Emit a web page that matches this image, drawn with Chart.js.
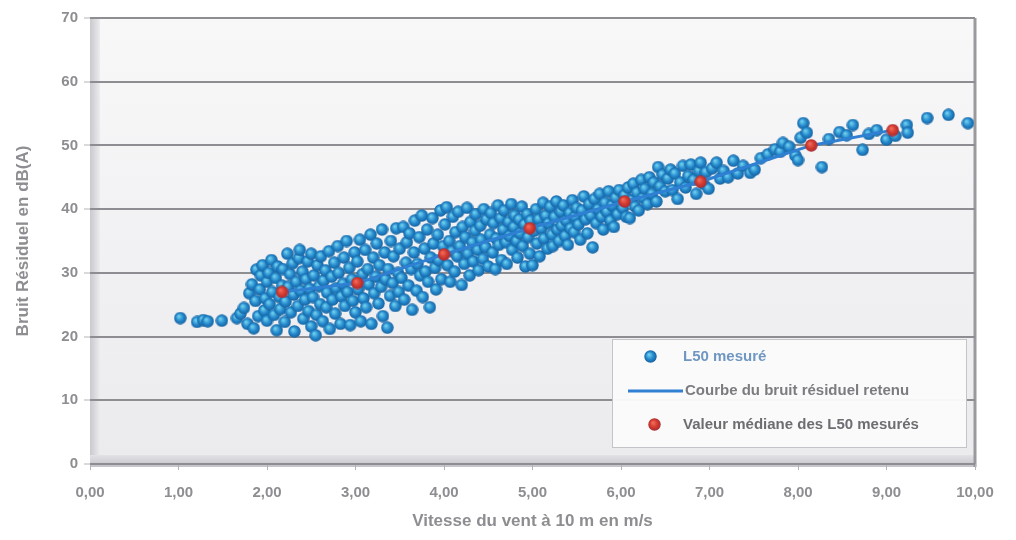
<!DOCTYPE html>
<html>
<head>
<meta charset="utf-8">
<script src="https://cdn.jsdelivr.net/npm/chart.js@4.4.1/dist/chart.umd.min.js"></script>
<style>
  html, body { margin: 0; padding: 0; background: #ffffff; }
  #wrap { width: 1016px; height: 540px; }
</style>
</head>
<body>
<div id="wrap"><canvas id="c" width="1016" height="540"></canvas></div>
<script>
// Wind speed at 10 m (m/s) and measured L50 residual noise (dB(A))
const measuredPoints = [
  [1.02,22.9],[1.21,22.3],[1.28,22.6],[1.33,22.4],[1.49,22.5],[1.66,22.9],[1.70,23.6],
  [1.74,24.5],[1.78,22.0],[1.80,26.8],[1.83,28.2],[1.85,21.3],[1.87,25.6],[1.88,30.5],[1.90,23.2],[1.92,27.4],[1.93,29.6],[1.95,31.2],[1.97,24.1],[1.98,26.0],[2.00,22.5],[2.00,28.6],
  [2.02,30.0],[2.03,25.1],[2.05,32.0],[2.06,27.0],[2.08,23.4],[2.10,29.2],[2.11,21.0],[2.12,31.0],[2.14,26.2],[2.15,24.3],[2.17,28.0],[2.18,30.6],[2.20,22.3],[2.21,25.5],[2.23,33.0],[2.24,27.8],[2.26,29.8],[2.27,23.8],[2.29,31.5],[2.30,26.6],[2.31,20.8],[2.33,28.6],[2.35,24.8],[2.36,32.3],[2.37,33.6],[2.38,27.2],[2.40,30.2],[2.41,22.8],[2.43,25.8],[2.44,29.0],[2.46,31.8],[2.47,24.0],[2.48,27.5],[2.50,33.0],[2.50,21.6],
  [2.52,26.2],[2.53,29.6],[2.55,20.2],[2.56,23.4],[2.57,31.2],[2.59,27.9],[2.60,25.1],[2.61,32.6],[2.63,22.4],[2.64,28.8],[2.66,30.4],[2.67,24.6],[2.68,26.9],[2.70,33.4],[2.71,21.2],[2.73,29.4],[2.74,25.8],[2.76,31.6],[2.77,23.6],[2.78,27.6],[2.80,34.2],[2.81,30.0],[2.83,22.0],[2.84,26.3],[2.86,28.3],[2.87,32.4],[2.88,24.8],[2.90,35.0],[2.91,27.0],[2.93,30.8],[2.94,21.8],[2.96,29.0],[2.97,25.6],[2.99,33.2],[3.00,23.8],
  [3.02,31.8],[3.03,27.4],[3.05,35.2],[3.06,22.4],[3.08,29.8],[3.09,26.0],[3.11,33.6],[3.12,24.6],[3.14,30.6],[3.15,28.2],[3.17,36.0],[3.18,22.0],[3.20,32.4],[3.21,26.8],[3.23,29.4],[3.24,34.6],[3.26,25.2],[3.27,31.2],[3.29,27.8],[3.30,36.8],[3.31,23.2],[3.33,33.2],[3.34,29.0],[3.36,21.4],[3.37,30.6],[3.39,26.4],[3.40,35.0],[3.42,28.4],[3.43,32.6],[3.45,24.8],[3.46,37.0],[3.48,30.0],[3.49,27.0],[3.50,33.8],
  [3.52,29.2],[3.54,37.2],[3.55,25.8],[3.57,31.6],[3.58,34.8],[3.60,28.0],[3.61,36.2],[3.63,30.6],[3.64,24.2],[3.66,33.2],[3.67,38.2],[3.69,27.2],[3.70,31.4],[3.72,35.6],[3.73,29.6],[3.75,39.0],[3.76,26.2],[3.78,33.8],[3.79,30.2],[3.81,36.8],[3.82,28.6],[3.84,24.6],[3.85,32.4],[3.87,38.6],[3.88,34.6],[3.90,30.8],[3.91,27.4],[3.93,36.0],[3.94,32.0],[3.96,39.8],[3.97,29.0],[3.99,34.2],
  [4.01,37.6],[4.03,40.3],[4.04,31.2],[4.06,35.0],[4.07,28.6],[4.09,33.4],[4.10,38.8],[4.12,30.2],[4.13,36.4],[4.15,32.6],[4.16,39.6],[4.18,34.2],[4.20,28.1],[4.21,37.2],[4.23,31.4],[4.24,35.6],[4.26,40.2],[4.27,33.0],[4.29,29.6],[4.30,38.0],[4.32,34.8],[4.33,31.8],[4.35,36.6],[4.36,39.2],[4.38,33.6],[4.39,30.4],[4.41,37.4],[4.42,35.2],[4.44,32.2],[4.45,40.0],[4.47,34.0],[4.48,38.4],[4.50,31.0],
  [4.52,36.0],[4.53,39.4],[4.55,33.2],[4.56,37.8],[4.58,30.6],[4.59,35.4],[4.61,40.6],[4.62,34.4],[4.64,38.6],[4.65,32.0],[4.67,36.8],[4.68,39.8],[4.70,34.8],[4.71,31.4],[4.73,38.0],[4.74,35.8],[4.76,40.8],[4.77,33.6],[4.79,37.2],[4.80,39.0],[4.82,35.0],[4.83,32.4],[4.85,38.4],[4.86,36.2],[4.88,40.4],[4.89,34.2],[4.91,37.6],[4.92,31.0],[4.94,39.2],[4.95,35.6],[4.97,33.0],[4.98,38.2],[5.00,31.2],
  [5.02,36.6],[5.04,40.0],[5.05,34.6],[5.07,38.4],[5.08,32.6],[5.10,37.0],[5.12,41.0],[5.13,35.4],[5.15,39.0],[5.17,33.8],[5.18,37.8],[5.20,40.4],[5.22,36.0],[5.23,34.2],[5.25,38.8],[5.27,41.2],[5.28,36.8],[5.30,35.0],[5.32,39.6],[5.33,37.4],[5.35,40.6],[5.37,35.8],[5.38,38.2],[5.40,34.4],[5.42,39.4],[5.43,37.0],[5.45,41.4],[5.47,36.4],[5.48,38.8],[5.50,40.2],
  [5.52,37.6],[5.54,35.2],[5.56,39.8],[5.58,42.0],[5.60,38.4],[5.62,36.2],[5.64,40.8],[5.66,39.0],[5.68,34.0],[5.70,41.6],[5.72,37.8],[5.74,40.0],[5.76,42.4],[5.78,38.8],[5.80,36.8],[5.82,41.0],[5.84,39.6],[5.86,42.8],[5.88,38.2],[5.90,40.6],[5.92,37.2],[5.94,41.8],[5.96,39.2],[5.98,43.0],
  [6.02,40.2],[6.04,42.2],[6.06,38.8],[6.08,43.4],[6.10,38.6],[6.12,41.4],[6.14,44.0],[6.16,40.4],[6.18,42.6],[6.20,39.8],[6.23,44.6],[6.25,41.8],[6.27,43.2],[6.30,40.8],[6.32,45.0],[6.35,42.4],[6.37,44.2],[6.40,41.2],[6.42,46.6],[6.44,43.6],[6.47,45.4],[6.50,42.8],
  [6.53,44.8],[6.56,46.2],[6.58,43.0],[6.61,45.6],[6.64,41.6],[6.67,44.2],[6.70,46.8],[6.73,43.4],[6.76,45.2],[6.79,47.0],[6.82,44.6],[6.85,42.4],[6.88,46.0],[6.90,47.3],[6.93,44.0],[6.96,45.8],[6.99,43.2],
  [7.03,46.4],[7.08,47.3],[7.12,44.8],[7.16,46.0],[7.21,45.0],[7.27,47.6],[7.32,45.6],[7.38,46.8],[7.46,45.7],[7.51,46.2],
  [7.58,48.0],[7.66,48.6],[7.74,49.4],[7.80,49.0],[7.83,50.4],[7.90,49.8],[7.97,48.4],[8.00,47.7],[8.03,51.2],
  [8.06,53.5],[8.10,52.0],[8.27,46.6],[8.35,51.0],[8.47,52.1],[8.55,51.6],[8.62,53.2],[8.73,49.3],[8.80,51.8],[8.89,52.4],[9.00,50.9],[9.10,51.5],[9.23,53.2],[9.24,52.0],[9.46,54.3],[9.70,54.8],[9.92,53.5]
];

// Median L50 per wind speed class
const medianSpeeds = [2.17, 3.02, 4.00, 4.97, 6.04, 6.90, 8.15, 9.07];
const medianL50    = [27.0, 28.4, 32.9, 37.0, 41.2, 44.3, 50.0, 52.4];

// Retained residual noise curve (through the medians)
const curveSpeeds = [2.17, 3.02, 4.00, 4.97, 6.04, 6.90, 8.15, 9.07];
const curveL50    = [27.0, 28.4, 32.9, 37.0, 41.2, 44.3, 50.0, 52.4];

const xTicks = [0, 1, 2, 3, 4, 5, 6, 7, 8, 9, 10];
const yTicks = [0, 10, 20, 30, 40, 50, 60, 70];

const seriesLabels = ['L50 mesuré', 'Courbe du bruit résiduel retenu', 'Valeur médiane des L50 mesurés'];
const xTitle = 'Vitesse du vent à 10 m en m/s';
const yTitle = 'Bruit Résiduel en dB(A)';

// Shaded sphere sprites for the markers
function sphere(size, light, mid, dark) {
  const c = document.createElement('canvas');
  c.width = size; c.height = size;
  const g = c.getContext('2d');
  const r = size / 2;
  const grad = g.createRadialGradient(r * 0.75, r * 0.7, 0.5, r, r, r);
  grad.addColorStop(0, light);
  grad.addColorStop(0.55, mid);
  grad.addColorStop(1, dark);
  g.fillStyle = grad;
  g.beginPath(); g.arc(r, r, r - 0.3, 0, Math.PI * 2); g.fill();
  return c;
}
const blueBall = sphere(13, '#6fd0ee', '#2488cc', '#155f9c');
const redBall = sphere(13, '#f06a5a', '#d23a2e', '#a52a35');

const fmtComma = v => v.toFixed(2).replace('.', ',');

// Plot background with the left wall, floor and frame
const backdrop = {
  id: 'backdrop',
  beforeDraw(chart) {
    const { ctx, chartArea: a } = chart;
    ctx.save();
    const bg = ctx.createLinearGradient(0, a.top, 0, a.bottom);
    bg.addColorStop(0, '#f8f8f9');
    bg.addColorStop(1, '#ebebee');
    ctx.fillStyle = bg;
    ctx.fillRect(a.left, a.top, a.right - a.left, a.bottom - a.top);
    // left wall
    const wall = ctx.createLinearGradient(a.left, 0, a.left + 10, 0);
    wall.addColorStop(0, '#c9c9ce');
    wall.addColorStop(1, '#ececef');
    ctx.fillStyle = wall;
    ctx.fillRect(a.left, a.top, 10, a.bottom - a.top);
    // floor
    const floor = ctx.createLinearGradient(0, a.bottom - 9, 0, a.bottom + 3);
    floor.addColorStop(0, '#e2e2e6');
    floor.addColorStop(1, '#c2c2c8');
    ctx.fillStyle = floor;
    ctx.fillRect(a.left, a.bottom - 9, a.right - a.left, 12);
    // frame
    ctx.strokeStyle = '#a8a8ac';
    ctx.lineWidth = 1;
    ctx.beginPath();
    ctx.moveTo(a.left, a.top + 0.5); ctx.lineTo(a.right, a.top + 0.5);
    ctx.stroke();
    ctx.strokeStyle = '#9a9a9e';
    ctx.lineWidth = 3;
    ctx.beginPath();
    ctx.moveTo(a.right, a.top); ctx.lineTo(a.right, a.bottom + 3);
    ctx.stroke();
    ctx.restore();
  }
};

// Legend box drawn inside the plot area
const innerLegend = {
  id: 'innerLegend',
  afterDatasetsDraw(chart) {
    const { ctx } = chart;
    const x0 = 612, y0 = 339, w = 354, h = 108;
    ctx.save();
    ctx.fillStyle = 'rgba(250,250,251,0.96)';
    ctx.fillRect(x0, y0, w, h);
    ctx.strokeStyle = '#c4c4c8';
    ctx.lineWidth = 1;
    ctx.strokeRect(x0 + 0.5, y0 + 0.5, w, h);
    ctx.font = 'bold 15px "Liberation Sans", Arial, sans-serif';
    ctx.textBaseline = 'middle';
    ctx.textAlign = 'left';
    // measured points
    ctx.drawImage(blueBall, 644, 350);
    ctx.fillStyle = '#6f97c2';
    ctx.fillText(seriesLabels[0], 683, 357);
    // retained curve
    ctx.strokeStyle = '#2f7fd2';
    ctx.lineWidth = 3;
    ctx.beginPath(); ctx.moveTo(628, 391); ctx.lineTo(683, 391); ctx.stroke();
    ctx.fillStyle = '#7c7c80';
    ctx.fillText(seriesLabels[1], 685, 391);
    // medians
    ctx.drawImage(redBall, 648, 418);
    ctx.fillStyle = '#6e6e72';
    ctx.fillText(seriesLabels[2], 683, 425);
    ctx.restore();
  }
};

const tickFont = { family: '"Liberation Sans", Arial, sans-serif', size: 15, weight: 'bold' };
const titleFont = { family: '"Liberation Sans", Arial, sans-serif', size: 17, weight: 'bold' };

new Chart(document.getElementById('c'), {
  type: 'scatter',
  data: {
    datasets: [
      {
        label: seriesLabels[2],
        data: medianSpeeds.map((x, i) => ({ x, y: medianL50[i] })),
        pointStyle: redBall,
        pointRadius: 6,
        order: 0
      },
      {
        label: seriesLabels[1],
        type: 'line',
        data: curveSpeeds.map((x, i) => ({ x, y: curveL50[i] })),
        borderColor: '#2f7fd2',
        borderWidth: 3,
        pointRadius: 0,
        tension: 0,
        fill: false,
        order: 1
      },
      {
        label: seriesLabels[0],
        data: measuredPoints.map(p => ({ x: p[0], y: p[1] })),
        pointStyle: blueBall,
        pointRadius: 6,
        order: 2
      }
    ]
  },
  options: {
    responsive: false,
    animation: false,
    devicePixelRatio: 1,
    layout: { padding: { left: 0, right: 41, top: 18, bottom: 0 } },
    plugins: {
      legend: { display: false },
      tooltip: { enabled: false }
    },
    scales: {
      x: {
        type: 'linear',
        min: 0, max: 10,
        afterBuildTicks: s => { s.ticks = xTicks.map(v => ({ value: v })); },
        afterFit: s => { s.height = 76; },
        border: { display: false },
        grid: { drawOnChartArea: false, drawTicks: true, tickLength: 6, color: '#b4b4b8', lineWidth: 1 },
        ticks: { padding: 14, color: '#8e8e92', font: tickFont, callback: v => fmtComma(v), maxRotation: 0 },
        title: { display: true, text: xTitle, color: '#8e8e92', font: titleFont, padding: { top: 0, bottom: 8 } }
      },
      y: {
        type: 'linear',
        min: 0, max: 70,
        afterBuildTicks: s => { s.ticks = yTicks.map(v => ({ value: v })); },
        afterFit: s => { s.width = 90; },
        border: { display: false },
        grid: { color: '#8e8e92', lineWidth: 2, tickLength: 6, tickColor: '#b4b4b8', tickWidth: 1 },
        ticks: { padding: 6, color: '#8e8e92', font: tickFont, callback: v => String(v) },
        title: { display: true, text: yTitle, color: '#8e8e92', font: titleFont, padding: { top: 13, bottom: 0 } }
      }
    }
  },
  plugins: [backdrop, innerLegend]
});
</script>
</body>
</html>
